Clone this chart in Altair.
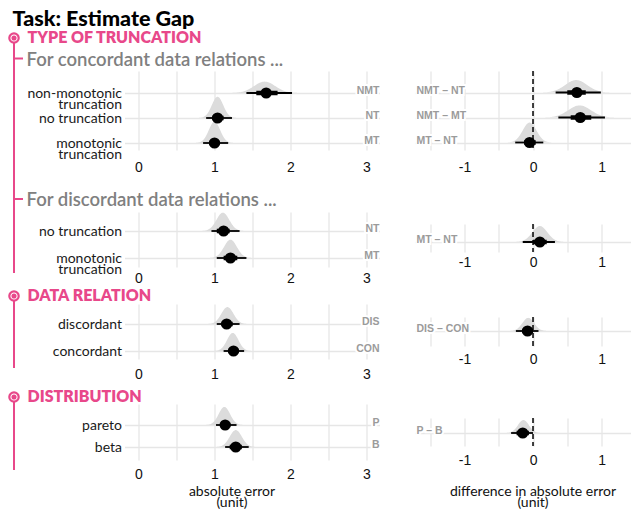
import altair as alt
import pandas as pd

# ---------------- data ----------------
title_text = "Task: Estimate Gap"
section_titles = ["TYPE OF TRUNCATION", "DATA RELATION", "DISTRIBUTION"]
sub_titles = ["For concordant data relations ...", "For discordant data relations ..."]
x_titles = [["absolute error", "(unit)"], ["difference in absolute error", "(unit)"]]

# Panel 1: truncation, concordant
p1_labels = ["non-monotonic\ntruncation", "no truncation", "monotonic\ntruncation"]
p1_abbr = ["NMT", "NT", "MT"]
p1_median = [1.68, 1.04, 1.00]
p1_lo66 = [1.55, 0.97, 0.93]
p1_hi66 = [1.83, 1.12, 1.07]
p1_lo95 = [1.42, 0.89, 0.85]
p1_hi95 = [2.02, 1.23, 1.18]
p1_mode = [1.66, 1.04, 1.00]
p1_sd = [0.14, 0.075, 0.075]

d1_labels = ["NMT – NT", "NMT – MT", "MT – NT"]
d1_median = [0.64, 0.69, -0.05]
d1_lo66 = [0.50, 0.55, -0.13]
d1_hi66 = [0.77, 0.85, 0.04]
d1_lo95 = [0.33, 0.37, -0.26]
d1_hi95 = [0.99, 1.05, 0.15]
d1_mode = [0.63, 0.68, -0.05]
d1_sd = [0.16, 0.165, 0.10]

# Panel 2: truncation, discordant
p2_labels = ["no truncation", "monotonic\ntruncation"]
p2_abbr = ["NT", "MT"]
p2_median = [1.12, 1.21]
p2_lo66 = [1.03, 1.12]
p2_hi66 = [1.20, 1.30]
p2_lo95 = [0.96, 1.03]
p2_hi95 = [1.33, 1.42]
p2_mode = [1.11, 1.21]
p2_sd = [0.085, 0.085]

d2_labels = ["MT – NT"]
d2_median = [0.10]
d2_lo66 = [0.00]
d2_hi66 = [0.20]
d2_lo95 = [-0.15]
d2_hi95 = [0.32]
d2_mode = [0.10]
d2_sd = [0.11]

# Panel 3: data relation
p3_labels = ["discordant", "concordant"]
p3_abbr = ["DIS", "CON"]
p3_median = [1.16, 1.25]
p3_lo66 = [1.09, 1.18]
p3_hi66 = [1.24, 1.32]
p3_lo95 = [1.03, 1.12]
p3_hi95 = [1.33, 1.39]
p3_mode = [1.17, 1.24]
p3_sd = [0.08, 0.075]

d3_labels = ["DIS – CON"]
d3_median = [-0.08]
d3_lo66 = [-0.16]
d3_hi66 = [0.00]
d3_lo95 = [-0.25]
d3_hi95 = [0.08]
d3_mode = [-0.07]
d3_sd = [0.085]

# Panel 4: distribution
p4_labels = ["pareto", "beta"]
p4_abbr = ["P", "B"]
p4_median = [1.14, 1.28]
p4_lo66 = [1.08, 1.20]
p4_hi66 = [1.21, 1.36]
p4_lo95 = [1.02, 1.14]
p4_hi95 = [1.29, 1.45]
p4_mode = [1.13, 1.28]
p4_sd = [0.075, 0.08]

d4_labels = ["P – B"]
d4_median = [-0.15]
d4_lo66 = [-0.24]
d4_hi66 = [-0.06]
d4_lo95 = [-0.32]
d4_hi95 = [0.00]
d4_mode = [-0.14]
d4_sd = [0.08]

# ---------------- styling / layout ----------------
PINK = "#e8488a"
SLAB = "#dcdcdc"
GRIDC = "#e6e6e6"
ABBC = "#9b9b9b"
TXT = "Lato"
NUM = "Liberation Sans"

XDOM = {"abs": [-0.184, 3.171], "diff": [-1.73, 1.423]}
XGRID = {"abs": [0, 0.5, 1, 1.5, 2, 2.5, 3], "diff": [-1.5, -1, -0.5, 0, 0.5, 1]}
WID = {"abs": 255, "diff": 216}

LAY = {
    "L1": dict(h=79, first=22, step=25, K=4.0, lpad=10),
    "R1": dict(h=79, first=21.5, step=25, K=5.0, lpad=10),
    "L2": dict(h=55, first=19, step=27, K=3.9, lpad=4),
    "R2": dict(h=28, first=18, step=25, K=4.4, lpad=3),
    "L3": dict(h=55, first=20, step=27, K=3.4, lpad=8),
    "R3": dict(h=29, first=14, step=25, K=2.8, lpad=6),
    "L4": dict(h=56, first=21, step=22, K=3.4, lpad=7),
    "R4": dict(h=28, first=15, step=25, K=2.6, lpad=7),
}

one = pd.DataFrame({"k": [0]})

# decoration geometry, in pixels relative to the left panels' plot area
LX = -110.5          # pink spine
TX = -97             # section text start
SX = -98             # sub-title text start


def vrule(y1, y2):
    return alt.Chart(one).mark_rule(color=PINK, strokeWidth=2).encode(
        x=alt.value(LX), y=alt.value(y1), y2=alt.value(y2))


def hrule(y):
    return alt.Chart(one).mark_rule(color=PINK, strokeWidth=2).encode(
        x=alt.value(LX), x2=alt.value(LX + 9), y=alt.value(y))


def ring(y):
    outer = alt.Chart(one).mark_circle(size=88, color="white", stroke=PINK, strokeWidth=2.2, opacity=1).encode(
        x=alt.value(LX), y=alt.value(y))
    inner = alt.Chart(one).mark_circle(size=26, color=PINK, opacity=1).encode(x=alt.value(LX), y=alt.value(y))
    return [outer, inner]


def txt(s, x, y, **kw):
    return alt.Chart(one).mark_text(align="left", **kw).encode(x=alt.value(x), y=alt.value(y), text=alt.value(s))


def section(s, y):
    return txt(s, TX, y, baseline="middle", font=TXT, fontWeight=800, fontSize=16, color=PINK)


def subtitle(s, y):
    return txt(s, SX, y, baseline="middle", font=TXT, fontWeight=600, fontSize=18.5, color="#808080")


def make_panel(kind, lay, labels, median, lo66, hi66, lo95, hi95, mode, sd,
               abbr=None, xtitle=None, title_x=0, title_y=0, extra=()):
    n = len(median)
    df = pd.DataFrame({
        "row": list(range(n)), "label": labels, "median": median,
        "lo66": lo66, "hi66": hi66, "lo95": lo95, "hi95": hi95,
        "mode": mode, "sd": sd,
    })
    if abbr is not None:
        df["abbr"] = abbr
    W = WID[kind]
    h, first, step = lay["h"], lay["first"], lay["step"]
    ys = alt.Scale(domain=[-first / step, (h - first) / step], reverse=True, nice=False, zero=False)
    xs = alt.Scale(domain=XDOM[kind], nice=False, zero=False)

    xkw = dict(values=XGRID[kind],
               labelExpr="datum.value % 1 == 0 ? '' + datum.value : ''",
               grid=True, gridColor=GRIDC, gridWidth=1.3, domain=False, ticks=False,
               labelPadding=lay["lpad"], labelFont=NUM, labelFontSize=14, labelColor="#111",
               labelFlush=False, labelOverlap=False)
    if xtitle is not None:
        xkw.update(titleFont=TXT, titleFontSize=14, titleFontWeight="normal", titleColor="#111",
                   titleX=title_x, titleY=title_y, titleBaseline="top", titleAlign="center",
                   titleLineHeight=11)
    xaxis = alt.Axis(**xkw)

    if kind == "abs":
        expr = "split([" + ",".join("'" + l.replace("\n", "|") + "'" for l in labels) + "][datum.value], '|')"
        yaxis = alt.Axis(values=list(range(n)), labelExpr=expr, grid=True, gridColor=GRIDC,
                         gridWidth=1.3, domain=False, ticks=False, labelPadding=3, labelFont=TXT,
                         labelFontSize=14, labelColor="#1a1a1a", labelLineHeight=11.5,
                         labelOverlap=False, labelFlush=False, labelBaseline="middle")
    else:
        yaxis = alt.Axis(values=list(range(n)), labels=False, grid=True, gridColor=GRIDC,
                         gridWidth=1.3, domain=False, ticks=False)

    def X(f):
        return alt.X(f, scale=xs, axis=xaxis, title=xtitle)

    def Y(f):
        return alt.Y(f, scale=ys, axis=yaxis, title=None, stack=None)

    base = alt.Chart(df)
    kk = lay["K"] / step
    slab = base.transform_calculate(g="sequence(0, 121)").transform_flatten(["g"]).transform_calculate(
        sx="datum.mode + (datum.g - 60) / 15 * datum.sd",
        top=f"datum.row - {kk} * exp(-0.5 * pow((datum.g - 60) / 15, 2)) / (datum.sd * sqrt(2 * PI))",
    ).mark_area(color=SLAB, orient="vertical", opacity=1).encode(
        x=X("sx:Q"), y=Y("top:Q"), y2=alt.Y2("row"), detail="row:N")

    layers = [slab]
    if kind == "diff":
        zero = alt.Chart(pd.DataFrame({"z": [0]})).mark_rule(
            color="#111", strokeWidth=1.6, strokeDash=[5, 3]).encode(x=X("z:Q"))
        layers.append(zero)
    thin = base.mark_rule(color="black", strokeWidth=1.8).encode(x=X("lo95:Q"), x2="hi95", y=Y("row:Q"))
    thick = base.mark_rule(color="black", strokeWidth=4.5).encode(x=X("lo66:Q"), x2="hi66", y=Y("row:Q"))
    pt = base.mark_circle(size=125, color="black", opacity=1).encode(x=X("median:Q"), y=Y("row:Q"))
    layers += [thin, thick, pt]

    if kind == "abs":
        tkw = dict(align="right", baseline="alphabetic", dy=1, font=NUM, fontWeight="bold", fontSize=10.5)
        tx, tf = alt.value(W), "abbr:N"
    else:
        tkw = dict(align="left", baseline="alphabetic", dy=1, font=NUM, fontWeight="bold", fontSize=10.5)
        tx, tf = alt.value(2), "label:N"
    halo = base.mark_text(color="white", stroke="white", strokeWidth=4, **tkw).encode(x=tx, y=Y("row:Q"), text=tf)
    lab = base.mark_text(color=ABBC, **tkw).encode(x=tx, y=Y("row:Q"), text=tf)
    layers += [halo, lab]
    layers += list(extra)
    return alt.layer(*layers).properties(width=W, height=h)


def spacer(w, h, extra=()):
    blank = alt.Chart(one).mark_point(opacity=0, size=1, strokeWidth=0).encode(x=alt.value(6), y=alt.value(6))
    return alt.layer(blank, *extra).properties(width=w, height=h)


L1 = make_panel("abs", LAY["L1"], p1_labels, p1_median, p1_lo66, p1_hi66, p1_lo95, p1_hi95, p1_mode, p1_sd,
                abbr=p1_abbr, extra=[vrule(0, 79)])
R1 = make_panel("diff", LAY["R1"], d1_labels, d1_median, d1_lo66, d1_hi66, d1_lo95, d1_hi95, d1_mode, d1_sd)
L2 = make_panel("abs", LAY["L2"], p2_labels, p2_median, p2_lo66, p2_hi66, p2_lo95, p2_hi95, p2_mode, p2_sd,
                abbr=p2_abbr, extra=[vrule(0, 55)])
R2 = make_panel("diff", LAY["R2"], d2_labels, d2_median, d2_lo66, d2_hi66, d2_lo95, d2_hi95, d2_mode, d2_sd)
L3 = make_panel("abs", LAY["L3"], p3_labels, p3_median, p3_lo66, p3_hi66, p3_lo95, p3_hi95, p3_mode, p3_sd,
                abbr=p3_abbr, extra=[vrule(0, 55)])
R3 = make_panel("diff", LAY["R3"], d3_labels, d3_median, d3_lo66, d3_hi66, d3_lo95, d3_hi95, d3_mode, d3_sd)
L4 = make_panel("abs", LAY["L4"], p4_labels, p4_median, p4_lo66, p4_hi66, p4_lo95, p4_hi95, p4_mode, p4_sd,
                abbr=p4_abbr, xtitle=x_titles[0], title_x=107, title_y=24, extra=[vrule(0, 66)])
R4 = make_panel("diff", LAY["R4"], d4_labels, d4_median, d4_lo66, d4_hi66, d4_lo95, d4_hi95, d4_mode, d4_sd,
                xtitle=x_titles[1], title_x=118, title_y=38)

top_deco = [vrule(30, 63), hrule(50.5)] + ring(30) + [
    txt(title_text, -112, 1, baseline="top", font=TXT, fontWeight=900, fontSize=21.5, color="#000"),
    section(section_titles[0], 30),
    subtitle(sub_titles[0], 52),
]
gap1_deco = [vrule(0, 62), hrule(49), subtitle(sub_titles[1], 50)]
gap2_deco = [vrule(0, 6), vrule(29, 37)] + ring(29) + [section(section_titles[1], 29)]
gap3_deco = [vrule(0, 9), vrule(38, 45)] + ring(38) + [section(section_titles[2], 38)]

left_col = alt.vconcat(
    spacer(255, 63, top_deco), L1, spacer(255, 62, gap1_deco), L2,
    spacer(255, 37, gap2_deco), L3, spacer(255, 45, gap3_deco), L4,
    spacing=0, bounds="flush")
right_col = alt.vconcat(
    spacer(216, 63), R1, spacer(216, 74), R2, spacer(216, 65), R3, spacer(216, 72), R4,
    spacing=0, bounds="flush")

chart = alt.hconcat(left_col, right_col, spacing=35).properties(
    padding={"left": -3.5, "top": 0, "right": 0, "bottom": 0}
).configure_view(stroke=None)

chart.save("out.html", embed_options={"renderer": "svg", "actions": False})
